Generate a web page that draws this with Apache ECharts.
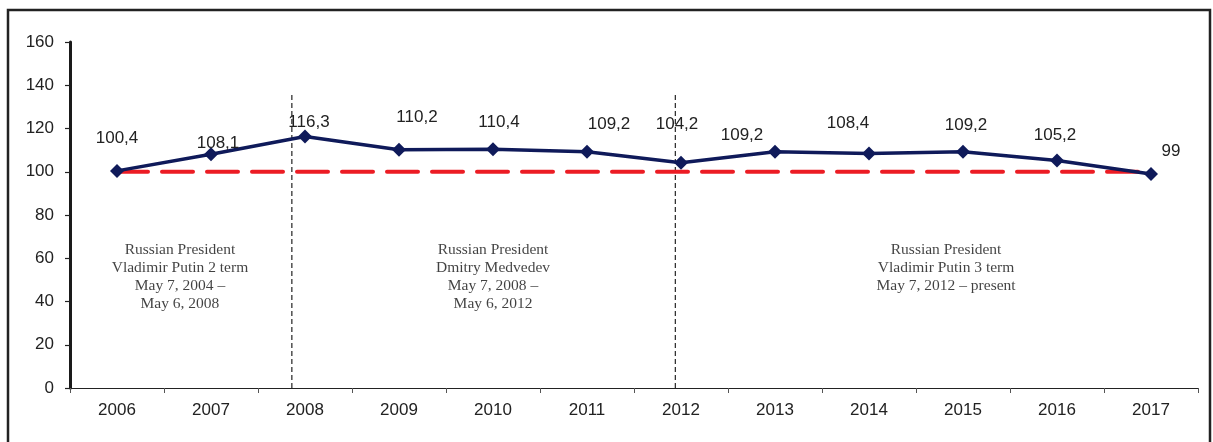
<!DOCTYPE html>
<html>
<head>
<meta charset="utf-8">
<script src="https://cdn.jsdelivr.net/npm/echarts@6/dist/echarts.min.js"></script>
<style>
  html, body { margin: 0; padding: 0; background: #fff; }
  #chart { width: 1213px; height: 442px; }
</style>
</head>
<body>
<div id="chart"></div>
<script>
// Index by year (100 = previous year level)
const years = ['2006', '2007', '2008', '2009', '2010', '2011', '2012', '2013', '2014', '2015', '2016', '2017'];
const indexValues = [100.4, 108.1, 116.3, 110.2, 110.4, 109.2, 104.2, 109.2, 108.4, 109.2, 105.2, 99];
const baseline = [100, 100, 100, 100, 100, 100, 100, 100, 100, 100, 100, 100];
const yTicks = [0, 20, 40, 60, 80, 100, 120, 140, 160];

// Presidential terms: boundaries (as fractional years) and captions
const termBoundaries = [2008.36, 2012.44];
const termCaptions = [
  { year: 2007.17, text: 'Russian President\nVladimir Putin 2 term\nMay 7, 2004 –\nMay 6, 2008' },
  { year: 2010.5, text: 'Russian President\nDmitry Medvedev\nMay 7, 2008 –\nMay 6, 2012' },
  { year: 2015.32, text: 'Russian President\nVladimir Putin 3 term\nMay 7, 2012 – present' }
];

// label placement around each marker (px)
const labelShift = [[0, -33], [7, -11], [4, -14], [18, -32], [6, -27], [22, -28],
                    [-4, -38], [-33, -17], [-21, -30], [3, -27], [-2, -25], [20, -23]];

const fmt = v => String(v).replace('.', ',');

const chart = echarts.init(document.getElementById('chart'));

const dividerSeries = termBoundaries.map(x => ({
  type: 'line',
  xAxisIndex: 1,
  data: [[x, 0], [x, 135.5]],
  symbol: 'none',
  silent: true,
  lineStyle: { color: '#333', width: 1.3, type: [5, 3] },
  z: 1
}));

chart.setOption({
  animation: false,
  backgroundColor: '#fff',
  graphic: [{
    type: 'rect',
    shape: { x: 8, y: 10, width: 1202, height: 445 },
    style: { fill: 'none', stroke: '#222', lineWidth: 2.5 },
    silent: true
  }],
  grid: { left: 70, right: 15, top: 42, bottom: 54 },
  xAxis: [{
    type: 'category',
    data: years,
    boundaryGap: true,
    axisLine: { lineStyle: { color: '#222', width: 1.2 } },
    axisTick: { show: true, length: 5, lineStyle: { color: '#555' } },
    axisLabel: { color: '#222', fontFamily: 'Liberation Sans, Arial', fontSize: 17, margin: 14 },
    splitLine: { show: false }
  }, {
    type: 'value',
    min: 2006,
    max: 2018,
    show: false
  }],
  yAxis: {
    type: 'value',
    min: yTicks[0],
    max: yTicks[yTicks.length - 1],
    interval: 20,
    axisLine: { show: true, lineStyle: { color: '#1a1a1a', width: 3 } },
    axisTick: { show: true, length: 5, lineStyle: { color: '#222', width: 1.2 } },
    axisLabel: { color: '#222', fontFamily: 'Liberation Sans, Arial', fontSize: 17, margin: 16 },
    splitLine: { show: false }
  },
  series: [
    ...dividerSeries,
    {
      type: 'line',
      data: baseline,
      symbol: 'none',
      silent: true,
      lineStyle: { color: '#ec1c24', width: 4, type: [31, 14], cap: 'round' },
      z: 2
    },
    {
      type: 'line',
      data: indexValues.map((v, i) => ({
        value: v,
        label: { offset: labelShift[i] }
      })),
      symbol: 'diamond',
      symbolSize: 14,
      itemStyle: { color: '#0f1a5a' },
      lineStyle: { color: '#0f1a5a', width: 3.5 },
      label: {
        show: true,
        position: 'inside',
        formatter: p => fmt(p.value),
        color: '#222',
        fontFamily: 'Liberation Sans, Arial',
        fontSize: 17
      },
      z: 3
    },
    {
      type: 'scatter',
      xAxisIndex: 1,
      symbolSize: 0,
      silent: true,
      data: termCaptions.map(c => ({ value: [c.year, 68], name: c.text })),
      label: {
        show: true,
        position: 'bottom',
        distance: 0,
        formatter: p => p.name,
        color: '#111',
        fontFamily: 'Liberation Serif, Times New Roman',
        fontSize: 15.5,
        lineHeight: 18,
        align: 'center'
      },
      z: 4
    }
  ]
});
</script>
</body>
</html>
